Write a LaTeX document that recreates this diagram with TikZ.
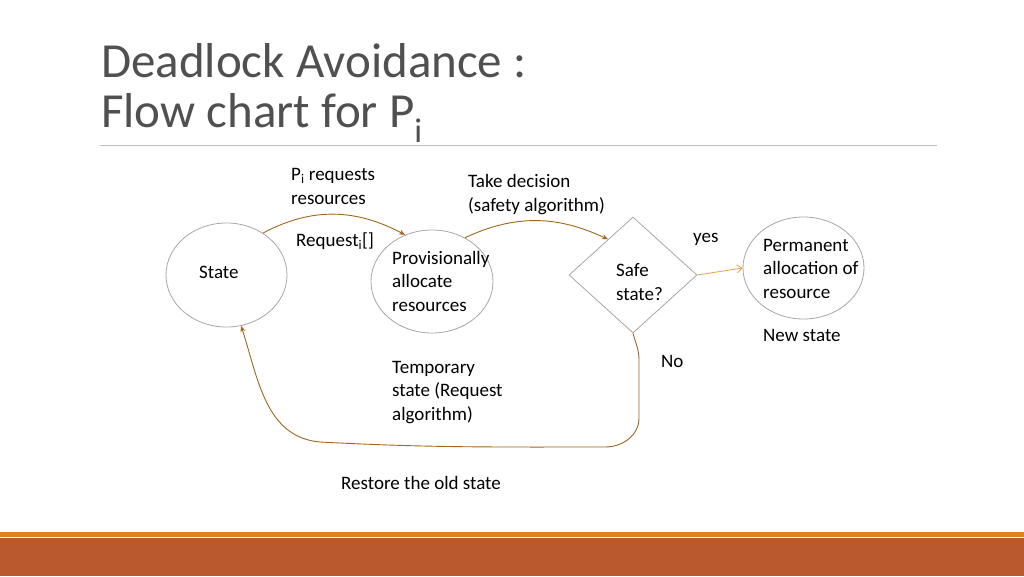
\documentclass[tikz,border=0pt]{standalone}
\usepackage{fontspec}
\setmainfont{Carlito}
\usetikzlibrary{shapes.geometric,arrows.meta}
\definecolor{titlegray}{HTML}{505050}
\definecolor{rulegray}{HTML}{BFBFBF}
\definecolor{shapegray}{HTML}{A6A6A6}
\definecolor{arrowbrown}{HTML}{A0661C}
\definecolor{yesorange}{HTML}{E8A04E}
\definecolor{barorange}{HTML}{E0821E}
\definecolor{barrust}{HTML}{BA582E}
\begin{document}
\begin{tikzpicture}[x=1pt,y=-1pt,
    txt/.style={anchor=base west,inner sep=0pt,align=left,
      font=\fontsize{19}{23.3}\selectfont},
    flow/.style={draw=arrowbrown,line width=0.9pt,-{Stealth[length=6pt,width=5pt]}}]

      \useasboundingbox (0,0) rectangle (1024,576);

      % title and rule (base = last line)
      \node[anchor=base west,inner sep=0pt,text=titlegray,align=left,
        font=\fontsize{49}{50}\selectfont] (title) at (101,127)
        {Deadlock Avoidance :\\Flow chart for P\textsubscript{i}};
      \draw[rulegray,line width=0.8pt] (100,145) -- (937,145);

      % bottom bars
      \fill[barorange] (0,532) rectangle (1024,537);
      \fill[barrust] (0,538) rectangle (1024,576);

      \begin{scope}[every node/.style={ellipse,draw=shapegray,line width=0.8pt}]
        \node (state) at (226.5,275) [minimum width=121pt,minimum height=104pt] {};
        \node (prov)  at (432,281.5) [minimum width=122pt,minimum height=103pt] {};
        \node (perm)  at (803.5,268) [minimum width=121pt,minimum height=102pt] {};
      \end{scope}
      \node (safe) at (633,275) [diamond,draw=shapegray,line width=0.8pt,
        minimum width=128pt,minimum height=116pt,inner sep=0pt] {};

      % texts, placed by the baseline of their last line
      \begin{scope}[every node/.style={txt}]
        \node (statetxt) at (199,278) {State};
        \node (provtxt)  at (392,311) {Provisionally\\allocate\\resources};
        \node (safetxt)  at (616,300) {Safe\\state?};
        \node (permtxt)  at (763,298) {Permanent\\allocation of\\resource};
        \node (newtxt)   at (763,341) {New state};
        \node (reqtxt)   at (291,204) {P\textsubscript{i} requests\\resources};
        \node (reqitxt)  at (296,246) {Request\textsubscript{i}[]};
        \node (taketxt)  at (468,211) {Take decision\\(safety algorithm)};
        \node (yestxt)   at (693,242) {yes};
        \node (notxt)    at (661,367) {No};
        \node (temptxt)  at (392,420) {Temporary\\state (Request\\algorithm)};
        \node (resttxt)  at (341,489) {Restore the old state};
      \end{scope}

      \coordinate (nodown) at (639,418);
      \coordinate (nobase) at (320,442);

      \path[flow] (state.49) to[out=28,in=152] (prov.120);
      \path[flow] (prov.53)  to[out=25,in=155] (safe.125);
      \draw[yesorange,line width=0.8pt,-{Straight Barb[length=5pt,width=8pt]}]
        (safe.east) -- (perm.west);
      \path[flow] (safe.south) to[out=-75,in=90] (639,360) -- (nodown)
        to[out=-90,in=0] (605,447) to[out=180,in=-3] (nobase)
        to[out=175,in=-72] (state.286);

    \end{tikzpicture}
\end{document}
